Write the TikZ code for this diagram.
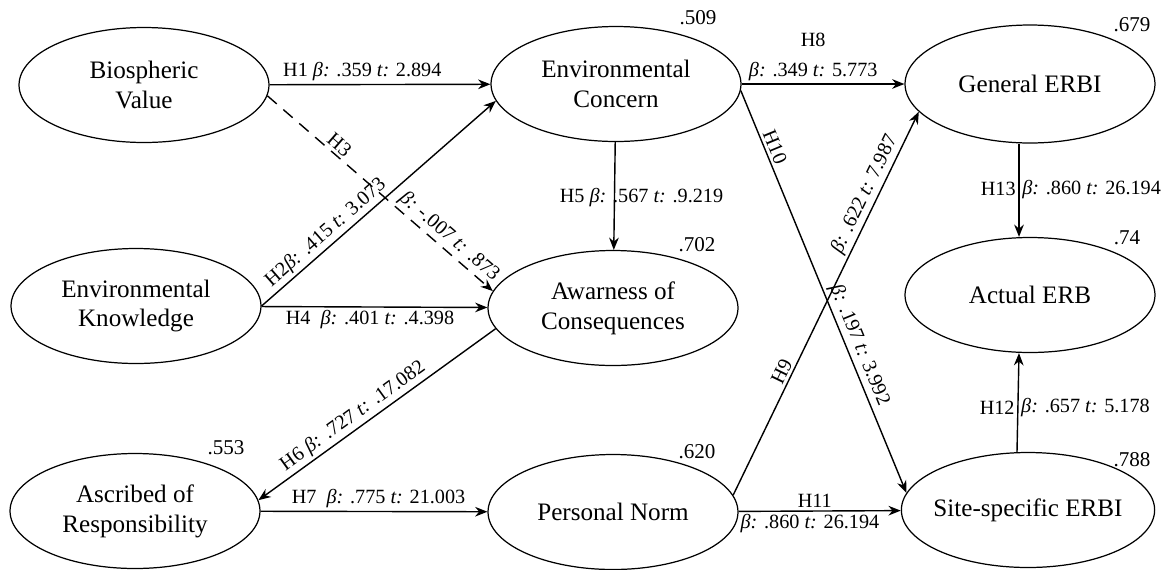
\documentclass[tikz,border=0pt]{standalone}
\usepackage{fontspec}
\setmainfont{LiberationSerif}[Extension=.ttf,UprightFont=*-Regular,ItalicFont=*-Italic,BoldFont=*-Bold]
\usetikzlibrary{arrows.meta,shapes.geometric}
\newcommand{\bt}[2]{\textit{β:} #1 \textit{t:} #2}

\begin{document}
\begin{tikzpicture}[x=0.02cm,y=-0.02cm,every node/.style={font=\fontsize{11.5}{13}\selectfont}]
  \tikzset{lv/.style={draw,ellipse,line width=0.7pt,inner sep=0pt,minimum width=5cm,
        minimum height=2.3cm,align=center,font=\fontsize{14.3}{17}\selectfont},
    hyp/.style={-{Stealth[length=7pt,width=5.5pt]},line width=0.8pt},
    lbl/.style={inner sep=1.5pt},
    r2/.style={inner sep=0pt,font=\fontsize{12}{14}\selectfont}}
  \useasboundingbox (0,0) rectangle (1164,569);
  % latent variables
  \node[lv] (bv) at (144,85) {Biospheric\\Value};
  \node[lv] (ek) at (136,306) {Environmental\\Knowledge};
  \node[lv] (ar) at (135,511) {Ascribed of\\Responsibility};
  \node[lv] (ec) at (616,84) {Environmental\\Concern};
  \node[lv] (aw) at (613,308) {Awarness of\\Consequences};
  \node[lv] (pn) at (613,512) {Personal Norm};
  \node[lv,minimum height=2.36cm] (ge) at (1030,84) {General ERBI};
  \node[lv] (ae) at (1030,295) {Actual ERB};
  \node[lv,inner xsep=-0.1cm] (se) at (1028,510) {Site-specific ERBI};
  % R squared
  \node[r2] (r2ec) at (698,18) {.509};
  \node[r2] (r2aw) at (697,245) {.702};
  \node[r2] (r2pn) at (697,452) {.620};
  \node[r2] (r2ar) at (226,448) {.553};
  \node[r2] (r2ge) at (1132,25) {.679};
  \node[r2] (r2ae) at (1127,238) {.74};
  \node[r2] (r2se) at (1132,460) {.788};
  % paths
  \draw[hyp] (bv) -- (ec) node[lbl,pos=.42,above] (h1) {H1 \bt{.359}{2.894}};
  \draw[hyp] (ek.east) -- (ec.188) node[lbl,pos=.31,above,sloped] (h2) {H2\bt{.415}{3.073}};
  \draw[hyp,dash pattern=on 7pt off 5pt] (bv.-5) -- (aw.172)
        node[lbl,pos=.29,above,sloped] (h3) {H3}
        node[lbl,pos=.77,above,sloped] (h3b) {\bt{-.007}{.873}};
  \draw[hyp] (ek) -- (aw) node[lbl,pos=.48,below] (h4) {H4\enspace\bt{.401}{.4.398}};
  \draw[hyp] (ec) -- (aw) node[lbl,pos=.51,xshift=0.54cm] (h5) {H5 \bt{.567}{.9.219}};
  \draw[hyp] (aw.190) -- (ar.5) node[lbl,pos=.57,above,sloped] (h6) {H6 \bt{.727}{.17.082}};
  \draw[hyp] (ar) -- (pn) node[lbl,pos=.52,above] (h7) {H7\enspace\bt{.775}{21.003}};
  \draw[hyp] (ec) -- (ge) node[lbl,pos=.44,above,align=center] (h8) {H8\\[4pt]\bt{.349}{5.773}};
  \draw[hyp] (pn.8) -- (ge.194)
        node[lbl,pos=.31,above,sloped] (h9) {H9}
        node[lbl,pos=.77,above,sloped] (h9b) {\bt{.622}{7.987}};
  \draw[hyp] (ec.-3) -- (se.172)
        node[lbl,pos=.15,above,sloped] (h10) {H10}
        node[lbl,pos=.645,above,sloped] (h10b) {\bt{.197}{3.992}};
  \draw[hyp] (pn) -- (se)
        node[lbl,pos=.47,above] (h11) {H11}
        node[lbl,pos=.44,below] (h11b) {\bt{.860}{26.194}};
  \draw[hyp] ([xshift=-0.22cm]se.north) -- ([xshift=-0.22cm]ae.south)
        node[lbl,pos=.45,left] (h12) {H12}
        node[lbl,pos=.45,right] (h12b) {\bt{.657}{5.178}};
  \draw[hyp] ([xshift=-0.22cm]ge.south) -- ([xshift=-0.22cm]ae.north)
        node[lbl,pos=.49,left] (h13) {H13}
        node[lbl,pos=.49,right] (h13b) {\bt{.860}{26.194}};
\end{tikzpicture}
\end{document}
